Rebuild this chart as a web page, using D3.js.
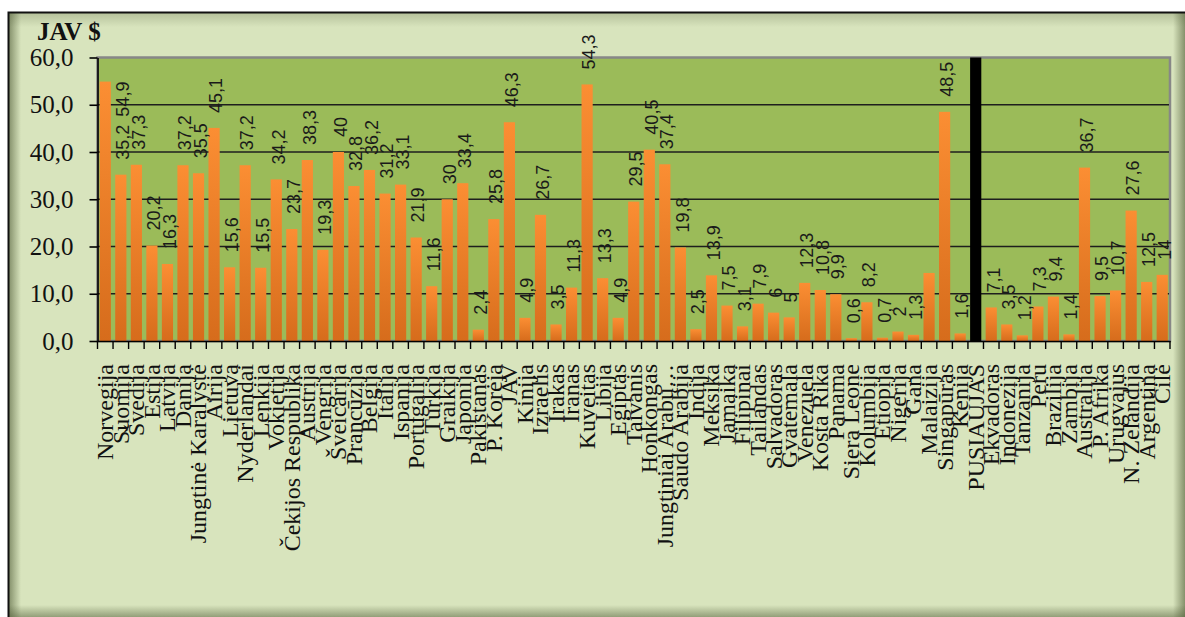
<!DOCTYPE html>
<html>
<head>
<meta charset="utf-8">
<script src="https://cdn.jsdelivr.net/npm/d3@7"></script>
<style>
  body { margin: 0; background: #fff; }
  svg { display: block; }
</style>
</head>
<body>
<div id="chart"></div>
<script>
var countries = ["Norvegija", "Suomija", "Švedija", "Estija", "Latvija", "Danija",
  "Jungtinė Karalystė", "Airija", "Lietuva", "Nyderlandai", "Lenkija", "Vokietija",
  "Čekijos Respublika", "Austrija", "Vengrija", "Šveicarija", "Prancūzija", "Belgija",
  "Italija", "Ispanija", "Portugalija", "Turkija", "Graikija", "Japonija", "Pakistanas",
  "P. Korėja", "JAV", "Kinija", "Izraelis", "Irakas", "Iranas", "Kuveitas", "Libija",
  "Egiptas", "Taivanis", "Honkongas", "Jungtiniai Arabų Emyratai", "Saudo Arabija",
  "Indija", "Meksika", "Jamaika", "Filipinai", "Tailandas", "Salvadoras", "Gvatemala",
  "Venezuela", "Kosta Rika", "Panama", "Siera Leone", "Kolumbija", "Etiopija", "Nigerija",
  "Gana", "Malaizija", "Singapūras", "Kenija", "PUSIAUJAS", "Ekvadoras", "Indonezija",
  "Tanzanija", "Peru", "Brazilija", "Zambija", "Australija", "P. Afrika", "Urugvajus",
  "N. Zelandija", "Argentina", "Čilė"];

var values = [54.9, 35.2, 37.3, 20.2, 16.3, 37.2,
  35.5, 45.1, 15.6, 37.2, 15.5, 34.2,
  23.7, 38.3, 19.3, 40, 32.8, 36.2,
  31.2, 33.1, 21.9, 11.6, 30, 33.4, 2.4,
  25.8, 46.3, 4.9, 26.7, 3.5, 11.3, 54.3, 13.3,
  4.9, 29.5, 40.5, 37.4, 19.8,
  2.5, 13.9, 7.5, 3.1, 7.9, 6, 5,
  12.3, 10.8, 9.9, 0.6, 8.2, 0.7, 2,
  1.3, 14.4, 48.5, 1.6, 60, 7.1, 3.5,
  1.2, 7.3, 9.4, 1.4, 36.7, 9.5, 10.7,
  27.6, 12.5, 14];

var yTicks = [0, 10, 20, 30, 40, 50, 60];
var separator = "PUSIAUJAS";
var noLabel = ["Malaizija", "PUSIAUJAS"];
var unitTitle = "JAV $";

var width = 1185;
var height = 617;
var plot = {left: 97.5, right: 1170, top: 57.5, bottom: 341};

var data = countries.map(function(c, i) { return {name: c, value: values[i]}; });

function commaNum(v) {
  return String(v).replace(".", ",");
}

function shortName(s) {
  return s.length > 18 ? s.slice(0, 16) + "…" : s;
}

var svg = d3.select("#chart")
  .append("svg")
    .attr("width", width)
    .attr("height", height);

var defs = svg.append("defs");

var barGrad = defs.append("linearGradient")
    .attr("id", "barGrad")
    .attr("x1", 0).attr("y1", 0).attr("x2", 0).attr("y2", 1);
barGrad.append("stop").attr("offset", "0%").attr("stop-color", "#fb8e33");
barGrad.append("stop").attr("offset", "100%").attr("stop-color", "#d66c1c");

function edgeGrad(id, x1, y1, x2, y2, op) {
  var g = defs.append("linearGradient").attr("id", id)
      .attr("x1", x1).attr("y1", y1).attr("x2", x2).attr("y2", y2);
  g.append("stop").attr("offset", "0%").attr("stop-color", "#4e5a35").attr("stop-opacity", op);
  g.append("stop").attr("offset", "100%").attr("stop-color", "#4e5a35").attr("stop-opacity", 0);
}
edgeGrad("shL", 0, 0, 1, 0, 0.6);
edgeGrad("shR", 1, 0, 0, 0, 0.6);
edgeGrad("shB", 0, 1, 0, 0, 0.5);
edgeGrad("shT", 0, 0, 0, 1, 0.25);

// chart background with inner shading
svg.append("rect")
    .attr("x", 8).attr("y", 12)
    .attr("width", width - 8).attr("height", height - 12)
    .attr("fill", "#d8e4bd");
svg.append("rect").attr("x", 9).attr("y", 12).attr("width", 12).attr("height", height - 12).attr("fill", "url(#shL)");
svg.append("rect").attr("x", 1173).attr("y", 12).attr("width", 12).attr("height", height - 12).attr("fill", "url(#shR)");
svg.append("rect").attr("x", 8).attr("y", 605).attr("width", width - 8).attr("height", 12).attr("fill", "url(#shB)");
svg.append("rect").attr("x", 8).attr("y", 13).attr("width", width - 8).attr("height", 14).attr("fill", "url(#shT)");
svg.append("path")
    .attr("d", "M8.5," + height + "V12.5H" + width)
    .attr("fill", "none")
    .attr("stroke", "#111")
    .attr("stroke-width", 2);

var xScale = d3.scaleBand()
    .domain(countries)
    .range([plot.left, plot.right]);

var yScale = d3.scaleLinear()
    .domain([0, 60])
    .range([plot.bottom, plot.top]);

var barW = xScale.bandwidth() * 0.72;

// plot area
svg.append("rect")
    .attr("x", plot.left).attr("y", plot.top)
    .attr("width", plot.right - plot.left).attr("height", plot.bottom - plot.top)
    .attr("fill", "#9bbb59")
    .attr("stroke", "#878787")
    .attr("stroke-width", 2.5);

svg.append("g")
  .selectAll("line")
  .data(yTicks.filter(function(d) { return d > 0 && d < 60; }))
  .enter().append("line")
    .attr("x1", plot.left).attr("x2", plot.right - 1)
    .attr("y1", function(d) { return yScale(d); })
    .attr("y2", function(d) { return yScale(d); })
    .attr("stroke", "#1e1e1e")
    .attr("stroke-width", 1.5);

svg.selectAll(".bar")
    .data(data)
  .enter().append("rect")
    .attr("class", "bar")
    .attr("x", function(d) { return xScale(d.name) + (xScale.bandwidth() - barW) / 2; })
    .attr("width", barW)
    .attr("y", function(d) { return yScale(d.value); })
    .attr("height", function(d) { return plot.bottom - yScale(d.value); })
    .attr("fill", function(d) { return d.name == separator ? "#000" : "url(#barGrad)"; });

// axes
var yAxis = svg.append("g")
    .attr("transform", "translate(" + plot.left + ",0)")
    .call(d3.axisLeft(yScale)
      .tickValues(yTicks)
      .tickSizeInner(8)
      .tickSizeOuter(0)
      .tickPadding(16)
      .tickFormat(function(d) { return d3.format(".1f")(d).replace(".", ","); }));
yAxis.select(".domain").attr("stroke", "#000").attr("stroke-width", 1.6);
yAxis.selectAll(".tick line").attr("stroke", "#000").attr("stroke-width", 1.6);
yAxis.selectAll(".tick text")
    .attr("font-family", "'Liberation Serif', 'Times New Roman', serif")
    .attr("font-size", 25)
    .attr("fill", "#111");

var xAxis = svg.append("g")
    .attr("transform", "translate(0," + plot.bottom + ")")
    .call(d3.axisBottom(xScale).tickSize(0).tickSizeOuter(0).tickFormat(shortName));
xAxis.select(".domain").attr("stroke", "#000").attr("stroke-width", 1.6);
xAxis.selectAll(".tick text")
    .attr("transform", "rotate(-90)")
    .attr("text-anchor", "end")
    .attr("x", -23)
    .attr("y", 0)
    .attr("dy", "0.33em")
    .attr("font-family", "'Liberation Serif', 'Times New Roman', serif")
    .attr("font-size", 24)
    .attr("fill", "#111");

// tick marks sit between the categories
var bounds = countries.map(function(c) { return xScale(c); }).concat([plot.right]);
svg.append("g")
  .selectAll("line")
  .data(bounds)
  .enter().append("line")
    .attr("x1", function(d) { return d; })
    .attr("x2", function(d) { return d; })
    .attr("y1", plot.bottom)
    .attr("y2", plot.bottom + 8)
    .attr("stroke", "#000")
    .attr("stroke-width", 1.4);

var title = svg.append("text")
    .attr("x", 37)
    .attr("y", 40)
    .attr("font-family", "'Liberation Serif', 'Times New Roman', serif")
    .attr("font-weight", "bold")
    .attr("font-size", 25)
    .attr("fill", "#111")
    .text(unitTitle);

// value labels
var labels = svg.append("g")
  .selectAll("text")
  .data(data.filter(function(d) { return noLabel.indexOf(d.name) < 0; }))
  .enter().append("text")
    .attr("transform", function(d) {
      return "translate(" + (xScale(d.name) + xScale.bandwidth() / 2 + 2) + "," + (yScale(d.value) - 15) + ") rotate(-90)";
    })
    .attr("dy", "0.35em")
    .attr("font-family", "'Liberation Sans', Arial, sans-serif")
    .attr("font-size", 18)
    .attr("fill", "#1a1a1a")
    .text(function(d) { return commaNum(d.value); });

// a label that runs into the axis title is moved down beside its bar
var tb = title.node().getBBox();
labels.each(function(d) {
  var r = this.getBoundingClientRect();
  if (r.left < tb.x + tb.width + 4 && r.top < tb.y + tb.height) {
    d3.select(this)
      .attr("text-anchor", "end")
      .attr("transform", "translate(" + (xScale(d.name) + xScale.bandwidth() * 1.5 + 2) + "," + yScale(d.value) + ") rotate(-90)");
  }
});
</script>
</body>
</html>
